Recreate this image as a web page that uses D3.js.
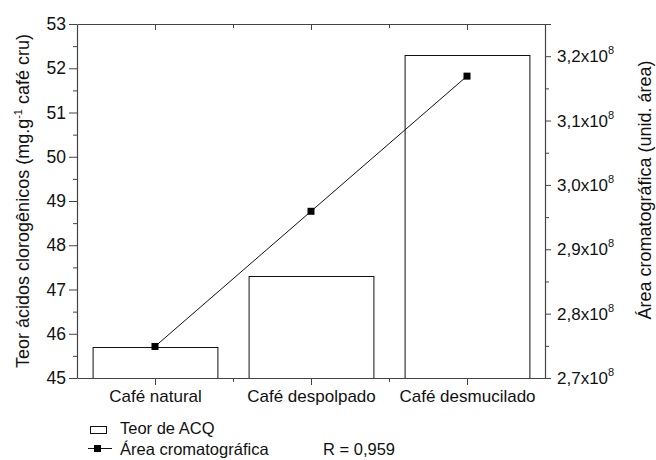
<!DOCTYPE html>
<html><head><meta charset="utf-8">
<script src="https://cdn.jsdelivr.net/npm/d3@7"></script>
<style>body{margin:0;background:#fff}text{font-family:"Liberation Sans",Arial,sans-serif;fill:#111}</style>
</head><body>
<svg id="c" width="656" height="460"></svg>
<script>
const categories = ["Café natural","Café despolpado","Café desmucilado"];
const teorACQ = [45.7, 47.3, 52.3];
const areaCrom = [2.749e8, 2.959e8, 3.169e8];
const leftTicks = [45,46,47,48,49,50,51,52,53];
const leftMinor = [45.5,46.5,47.5,48.5,49.5,50.5,51.5,52.5];
const rightTicks = [2.7e8,2.8e8,2.9e8,3.0e8,3.1e8,3.2e8];
const rightMinor = [2.75e8,2.85e8,2.95e8,3.05e8,3.15e8];
const rightTickLabels = ["2,7x10","2,8x10","2,9x10","3,0x10","3,1x10","3,2x10"];

const svg = d3.select("#c");
const L=77, R=545, T=24, B=378;
const x = d3.scaleLinear().domain([0.5,3.5]).range([L,R]);
const yL = d3.scaleLinear().domain([45,53]).range([B,T]);
const yR = d3.scaleLinear().domain([2.7e8,3.25e8]).range([B,T]);
const axisCol = "#444";
const step = x(2)-x(1);
const bw = step*0.8;

// bars
svg.selectAll("rect.bar").data(teorACQ).join("rect")
  .attr("x",(d,i)=>x(i+1)-bw/2+0.5).attr("y",d=>Math.round(yL(d))+0.5)
  .attr("width",bw).attr("height",d=>B-Math.round(yL(d)))
  .attr("fill","#fff").attr("stroke","#111").attr("stroke-width",1);

// line
const line = d3.line().x((d,i)=>x(i+1)).y(d=>yR(d));
svg.append("path").datum(areaCrom).attr("d",line).attr("fill","none").attr("stroke","#111").attr("stroke-width",1);
svg.selectAll("rect.pt").data(areaCrom).join("rect")
  .attr("x",(d,i)=>x(i+1)-3.5).attr("y",d=>yR(d)-3.5).attr("width",7).attr("height",7).attr("fill","#000");

function styleAxis(g){ g.selectAll("path,line").attr("stroke",axisCol); g.select(".domain").attr("stroke-width",1.2); }
// left
svg.append("g").attr("transform",`translate(${L},0)`)
  .call(d3.axisLeft(yL).tickValues(leftTicks).tickSize(8).tickSizeOuter(0).tickPadding(3))
  .call(styleAxis).call(g=>g.selectAll("text").style("font-size","17.5px").attr("fill","#111"));
svg.append("g").attr("transform",`translate(${L},0)`)
  .call(d3.axisLeft(yL).tickValues(leftMinor).tickSize(4).tickFormat(""))
  .call(styleAxis).call(g=>g.select(".domain").remove());
// bottom
svg.append("g").attr("transform",`translate(0,${B})`)
  .call(d3.axisBottom(x).tickValues([1,2,3]).tickFormat((d)=>categories[d-1]).tickSize(7).tickSizeOuter(0).tickPadding(5))
  .call(styleAxis).call(g=>g.selectAll("text").style("font-size","17px").attr("fill","#111"));
svg.append("g").attr("transform",`translate(0,${B})`)
  .call(d3.axisBottom(x).tickValues([1.5,2.5]).tickSize(4).tickFormat(""))
  .call(styleAxis).call(g=>g.select(".domain").remove());
// top
svg.append("g").attr("transform",`translate(0,${T})`)
  .call(d3.axisBottom(x).tickValues([1,2,3]).tickSize(6).tickSizeOuter(0).tickFormat(""))
  .call(styleAxis);
svg.append("g").attr("transform",`translate(0,${T})`)
  .call(d3.axisBottom(x).tickValues([1.5,2.5]).tickSize(4).tickFormat(""))
  .call(styleAxis).call(g=>g.select(".domain").remove());
// right
svg.append("g").attr("transform",`translate(${R},0)`)
  .call(d3.axisRight(yR).tickValues(rightTicks).tickSize(6).tickSizeOuter(6).tickFormat(""))
  .call(styleAxis);
svg.append("g").attr("transform",`translate(${R},0)`)
  .call(d3.axisRight(yR).tickValues(rightMinor).tickSize(4).tickFormat(""))
  .call(styleAxis).call(g=>g.select(".domain").remove());
const rl = svg.append("g").selectAll("text").data(rightTicks).join("text")
  .attr("x",R+12).attr("y",d=>yR(d)+6).style("font-size","17px");
rl.append("tspan").text((d,i)=>rightTickLabels[i]);
rl.append("tspan").attr("dy",-8).style("font-size","11px").text("8");

// axis titles
svg.append("text").attr("transform",`translate(29,${(T+B)/2}) rotate(-90)`).attr("text-anchor","middle")
  .style("font-size","18px").html('Teor ácidos clorogênicos (mg.g<tspan dy="-7" font-size="11">-1</tspan><tspan dy="7"> café cru)</tspan>');
svg.append("text").attr("transform",`translate(651,190) rotate(-90)`).attr("text-anchor","middle")
  .style("font-size","18px").text("Área cromatográfica (unid. área)");

// legend
const lg = svg.append("g");
lg.append("rect").attr("x",90.5).attr("y",426.5).attr("width",16).attr("height",7).attr("fill","#fff").attr("stroke","#111");
lg.append("text").attr("x",120).attr("y",434).style("font-size","16.5px").text("Teor de ACQ");
lg.append("line").attr("x1",88).attr("x2",112).attr("y1",448.5).attr("y2",448.5).attr("stroke","#111");
lg.append("rect").attr("x",94).attr("y",445).attr("width",7).attr("height",7).attr("fill","#000");
lg.append("text").attr("x",120).attr("y",455).style("font-size","16.5px").text("Área cromatográfica");
lg.append("text").attr("x",323).attr("y",455).style("font-size","16.5px").text("R = 0,959");
</script>
</body></html>
